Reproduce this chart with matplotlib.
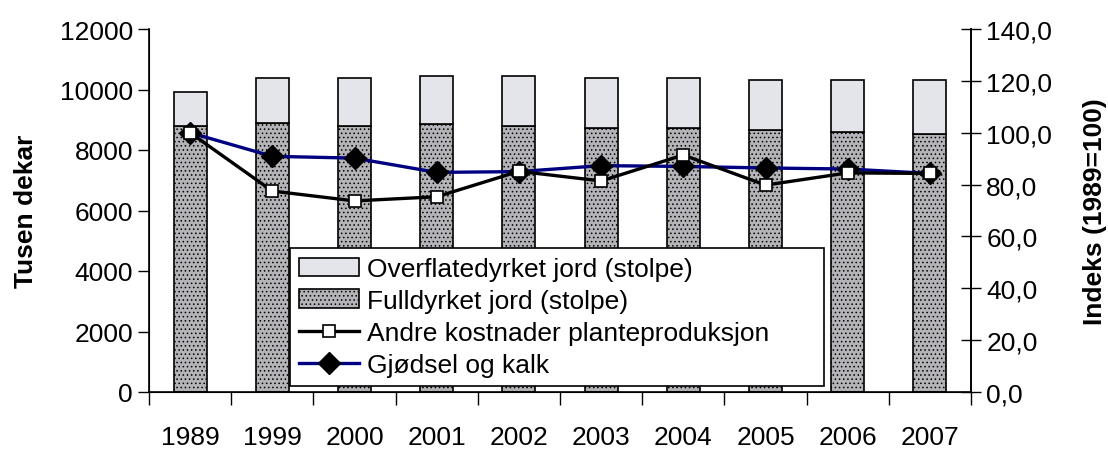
import numpy as np
import matplotlib
matplotlib.use("Agg")
import matplotlib.pyplot as plt
from matplotlib.ticker import FuncFormatter, FixedLocator

plt.rcParams['font.family'] = ['Liberation Sans', 'DejaVu Sans']
plt.rcParams['hatch.linewidth'] = 0.6
plt.rcParams['hatch.color'] = '#707070'

years = ['1989', '1999', '2000', '2001', '2002', '2003', '2004', '2005', '2006', '2007']
# tusen dekar
fulldyrket = [8800, 8880, 8800, 8860, 8800, 8720, 8730, 8660, 8600, 8530]
totalt = [9920, 10380, 10380, 10460, 10460, 10380, 10380, 10310, 10310, 10310]
overflate = [t - f for t, f in zip(totalt, fulldyrket)]
# indeks 1989=100
andre_kostnader = [100.0, 77.5, 73.7, 75.3, 85.1, 81.4, 91.4, 79.8, 84.5, 84.3]
gjodsel_kalk = [100.0, 90.9, 90.2, 84.7, 85.0, 87.3, 87.0, 86.4, 86.0, 84.3]

x = np.arange(len(years))

fig = plt.figure(figsize=(11.08, 4.52), dpi=100)
ax = fig.add_axes([149 / 1108, 59 / 452, 822 / 1108, 363 / 452])
ax2 = ax.twinx()

# stacked bars
b_full = ax.bar(x, fulldyrket, width=0.4, color='#b4b4b8', edgecolor='black',
                linewidth=1.2, hatch='....', zorder=2)
b_over = ax.bar(x, overflate, bottom=fulldyrket, width=0.4, color='#e4e5ea',
                edgecolor='black', linewidth=1.2, zorder=2)

ax.set_xlim(-0.5, len(years) - 0.5)
ax.set_ylim(0, 12000)
ax.set_yticks(np.arange(0, 12001, 2000))
ax.set_ylabel('Tusen dekar', fontsize=19, fontweight='bold', labelpad=16)
ax.tick_params(axis='y', labelsize=19, direction='out', length=8, width=1)

# x: labels at centres, tick marks at category boundaries
ax.set_xticks(x)
ax.set_xticklabels(years)
ax.tick_params(axis='x', which='major', length=0, labelsize=19, pad=24)
ax.xaxis.set_minor_locator(FixedLocator(np.arange(-0.5, len(years), 1.0)))
ax.tick_params(axis='x', which='minor', direction='out', length=9, width=1)

ax.spines['top'].set_visible(False)
ax2.spines['top'].set_visible(False)
for s in ['left', 'bottom', 'right']:
    ax.spines[s].set_linewidth(1.2)
ax2.spines['right'].set_linewidth(1.2)

# index lines
l_gj, = ax2.plot(x, gjodsel_kalk, color='#000080', linewidth=2.4, marker='D',
                 markersize=11, markerfacecolor='black', markeredgecolor='black',
                 zorder=3)
l_an, = ax2.plot(x, andre_kostnader, color='black', linewidth=2.4, marker='s',
                 markersize=8, markerfacecolor='white', markeredgecolor='black',
                 markeredgewidth=1.2, zorder=4)

ax2.set_ylim(0, 140)
ax2.set_yticks(np.arange(0, 141, 20))
ax2.yaxis.set_major_formatter(FuncFormatter(lambda v, p: f'{v:.1f}'.replace('.', ',')))
ax2.tick_params(axis='y', labelsize=19, direction='inout', length=14, width=1, pad=4)
ax2.set_ylabel('Indeks (1989=100)', fontsize=19, fontweight='bold', labelpad=22)

leg = ax2.legend([b_over, b_full, l_an, l_gj],
                 ['Overflatedyrket jord (stolpe)', 'Fulldyrket jord (stolpe)',
                  'Andre kostnader planteproduksjon', 'Gjødsel og kalk'],
                 loc='lower left', bbox_to_anchor=(0.171, 0.0165, 0.65, 0.39),
                 mode='expand', fontsize=19,
                 frameon=True, fancybox=False, framealpha=1, edgecolor='black',
                 borderpad=0.35, labelspacing=0.3, handlelength=2.3,
                 handletextpad=0.3, borderaxespad=0)
leg.get_frame().set_linewidth(1.2)
leg.set_zorder(10)

fig.savefig('out.png', dpi=100)
